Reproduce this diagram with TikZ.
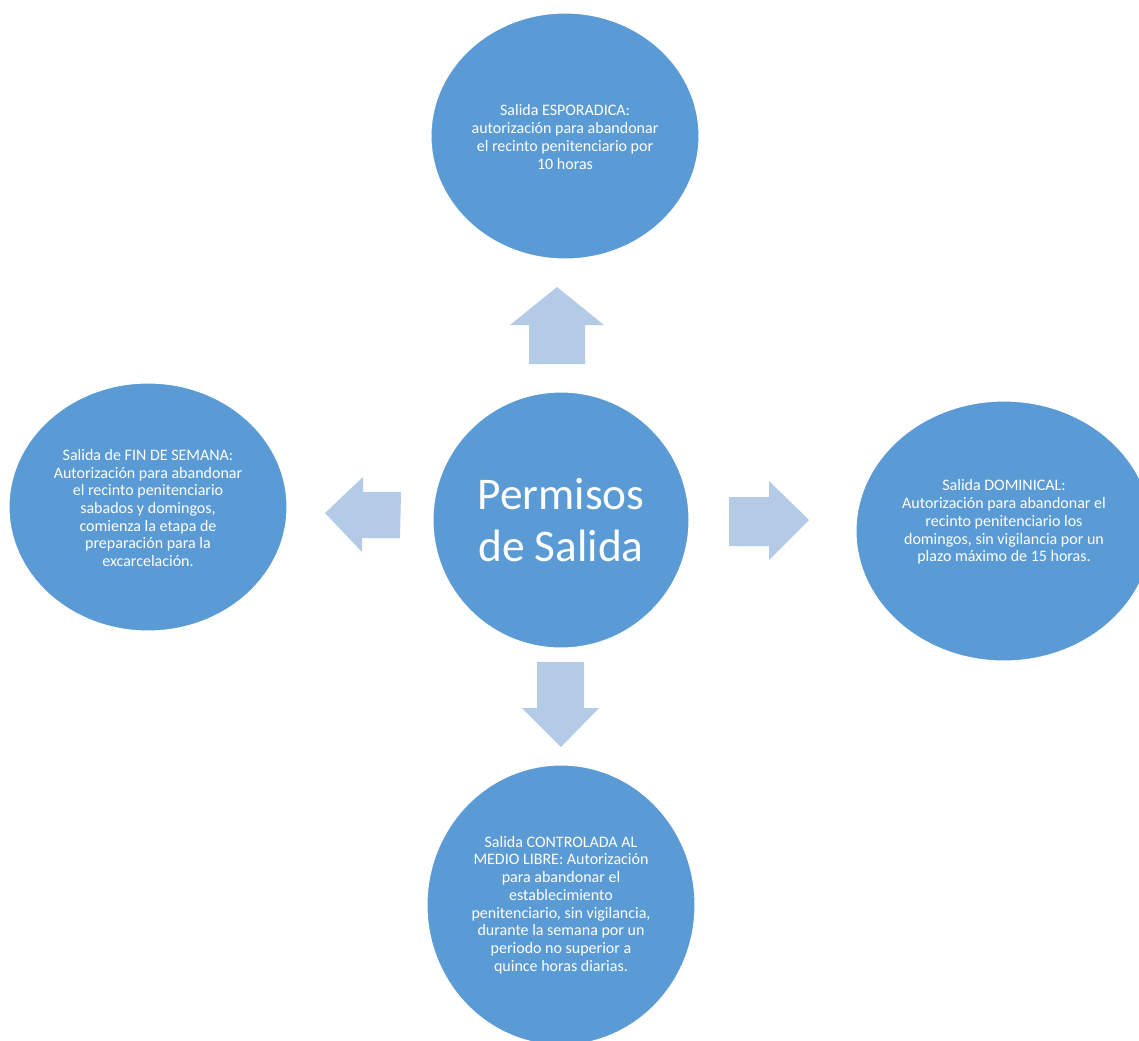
\documentclass[tikz,border=0pt]{standalone}
\usepackage{fontspec}
\setmainfont{Carlito}
\usetikzlibrary{shapes.geometric}
\definecolor{ellblue}{HTML}{5B9BD5}
\definecolor{arrblue}{HTML}{B4CBE8}
\tikzset{
  bubble/.style={ellipse, fill=ellblue, draw=white, line width=0.8pt, text=white, align=center, inner sep=0pt},
  bubbletext/.style={text=white, align=center, font=\fontsize{12pt}{13.3pt}\selectfont},
  blockarrow/.style={fill=arrblue, draw=none}
}
\begin{document}
\begin{tikzpicture}[x=0.75pt,y=-0.75pt]
\clip (0,0) rectangle (1139,1040);
\fill[white] (0,0) rectangle (1139,1040);
% center
\node[bubble, circle, minimum size=192pt, font=\fontsize{34pt}{39pt}\selectfont] (c) at (561,520) {Permisos\\de Salida};
% top
\node[bubble, minimum width=201pt, minimum height=184.5pt] (t) at (565,136) {};
\node[bubbletext] (tt) at (565,137) {Salida ESPORADICA:\\autorización para abandonar\\el recinto penitenciario por\\10 horas};
% left
\node[bubble, minimum width=208.5pt, minimum height=186pt] (l) at (148,507) {};
\node[bubbletext] (lt) at (148,508) {Salida de FIN DE SEMANA:\\Autorización para abandonar\\el recinto penitenciario\\sabados y domingos,\\comienza la etapa de\\preparación para la\\excarcelación.};
% right
\node[bubble, minimum width=222pt, minimum height=195pt] (r) at (1004,531) {};
\node[bubbletext] (rt) at (1004,522) {Salida DOMINICAL:\\Autorización para abandonar el\\recinto penitenciario los\\domingos, sin vigilancia por un\\plazo máximo de 15 horas.};
% bottom
\node[bubble, minimum width=201pt, minimum height=210pt] (b) at (561,905) {};
\node[bubbletext] (bt) at (561,905) {Salida CONTROLADA AL\\MEDIO LIBRE: Autorización\\para abandonar el\\establecimiento\\penitenciario, sin vigilancia,\\durante la semana por un\\periodo no superior a\\quince horas diarias.};
% arrows
\fill[blockarrow] (529,364) -- (529,325) -- (510,325) -- (557,287) -- (604,325) -- (585,325) -- (585,364) -- cycle;
\fill[blockarrow] (401,492) -- (363,492) -- (363,477) -- (325,513) -- (362,552) -- (362,538) -- (400,538) -- cycle;
\fill[blockarrow] (729,497) -- (769,497) -- (769,481) -- (809,520) -- (769,560) -- (769,546) -- (729,546) -- cycle;
\fill[blockarrow] (537,662) -- (584,662) -- (584,708) -- (599,708) -- (561,747) -- (522,708) -- (537,708) -- cycle;
\end{tikzpicture}
\end{document}
